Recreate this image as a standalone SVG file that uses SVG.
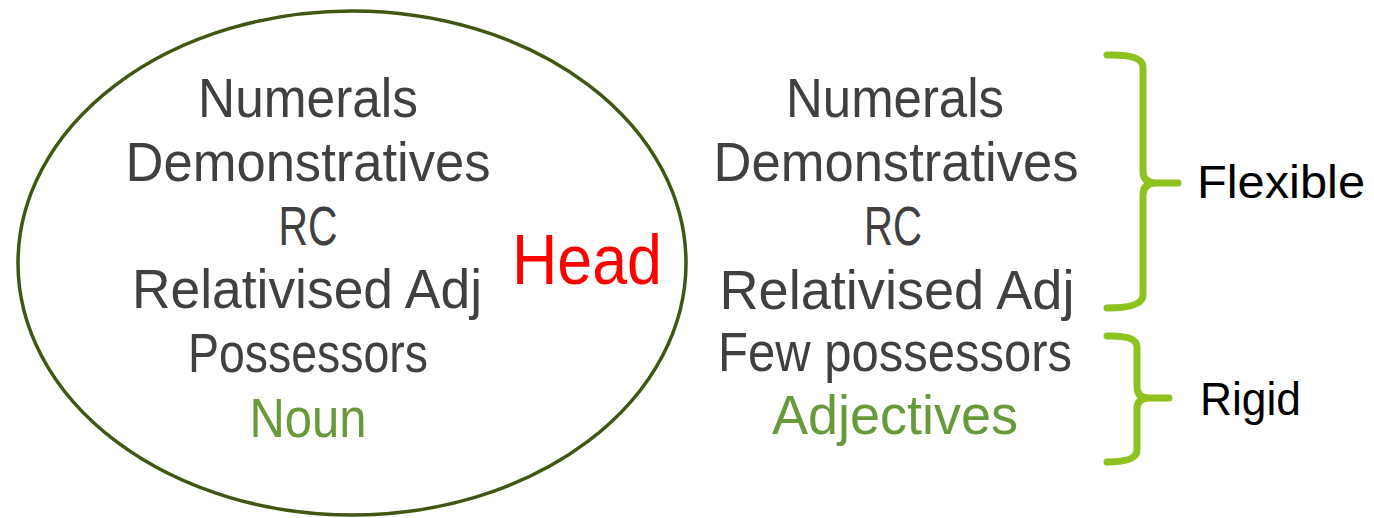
<svg xmlns="http://www.w3.org/2000/svg" width="1374" height="518" viewBox="0 0 1374 518">
<style>
.t{font-family:"Liberation Sans",Arial,sans-serif;font-size:56px;fill:#404040;text-anchor:middle}
.g{fill:#689a3c}
.h{font-family:"Liberation Sans",Arial,sans-serif;font-size:71px;fill:#ff0000}
.l{font-family:"Liberation Sans",Arial,sans-serif;font-size:46px;fill:#000000}
.br{fill:none;stroke:#8dc21f;stroke-width:7;stroke-linecap:round;stroke-linejoin:round}
</style>
<rect width="1374" height="518" fill="#ffffff"/>
<g id="head-ellipse">
<ellipse cx="352" cy="263" rx="334" ry="252" fill="none" stroke="#3f5713" stroke-width="3.5"/>
<text class="t" x="308" y="117" textLength="220" lengthAdjust="spacingAndGlyphs">Numerals</text>
<text class="t" x="308" y="181" textLength="365" lengthAdjust="spacingAndGlyphs">Demonstratives</text>
<text class="t" x="308" y="245" textLength="59" lengthAdjust="spacingAndGlyphs">RC</text>
<text class="t" x="307" y="308" textLength="350" lengthAdjust="spacingAndGlyphs">Relativised Adj</text>
<text class="t" x="308" y="372" textLength="240" lengthAdjust="spacingAndGlyphs">Possessors</text>
<text class="t g" x="308" y="437" textLength="117" lengthAdjust="spacingAndGlyphs">Noun</text>
<text class="h" x="512" y="284" textLength="150" lengthAdjust="spacingAndGlyphs">Head</text>
</g>
<g id="right-list">
<text class="t" x="895" y="117" textLength="218" lengthAdjust="spacingAndGlyphs">Numerals</text>
<text class="t" x="896" y="181" textLength="365" lengthAdjust="spacingAndGlyphs">Demonstratives</text>
<text class="t" x="893" y="245" textLength="58" lengthAdjust="spacingAndGlyphs">RC</text>
<text class="t" x="897" y="309" textLength="355" lengthAdjust="spacingAndGlyphs">Relativised Adj</text>
<text class="t" x="895" y="371" textLength="354" lengthAdjust="spacingAndGlyphs">Few possessors</text>
<text class="t g" x="895" y="434" textLength="246" lengthAdjust="spacingAndGlyphs">Adjectives</text>
</g>
<g id="connectors">
<path class="br" d="M1107,55 Q1143,54 1143,67 L1143,171 Q1143,183 1156,183 L1178,183 M1156,183 Q1143,183 1143,195 L1143,295 Q1143,308 1107,308"/>
<path class="br" d="M1107,336 Q1137,335 1137,347 L1137,387 Q1137,398 1149,398 L1169,398 M1149,398 Q1137,398 1137,409 L1137,450 Q1137,462 1107,462"/>
</g>
<g id="flexible">
<text class="l" x="1197" y="198" textLength="168" lengthAdjust="spacingAndGlyphs">Flexible</text>
</g>
<g id="rigid">
<text class="l" x="1200" y="415" textLength="101" lengthAdjust="spacingAndGlyphs">Rigid</text>
</g>
</svg>
